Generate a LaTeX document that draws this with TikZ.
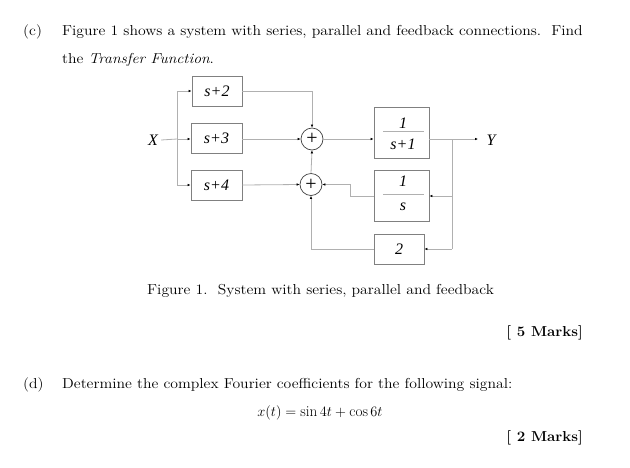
\documentclass[tikz,border=0pt]{standalone}
\usepackage{fontspec}
\usepackage{amsmath}
\usetikzlibrary{arrows.meta}
\newfontfamily\dgfont{Liberation Serif}
\newcommand{\widetxt}[1]{\scalebox{1.09}[1]{#1}}
\definecolor{wire}{HTML}{B0B0B0}
\definecolor{boxline}{HTML}{808080}
\definecolor{sumline}{HTML}{404040}
\tikzset{
  body/.style={anchor=base west,inner sep=0pt,font=\fontsize{14.4}{17}\selectfont},
  bodyr/.style={anchor=base east,inner sep=0pt,font=\fontsize{14.4}{17}\selectfont\bfseries},
  blk/.style={draw=boxline,line width=0.8pt,inner sep=0pt,font=\dgfont\itshape\fontsize{16}{18}\selectfont},
  sumnode/.style={circle,draw=sumline,line width=0.7pt,minimum size=22pt,inner sep=0pt,font=\dgfont\fontsize{20}{20}\selectfont},
  wirearrow/.style={draw=wire,line width=0.8pt,-{Latex[length=3pt,width=2.6pt,color=black]}},
  wireline/.style={draw=wire,line width=0.8pt},
  lbl/.style={inner sep=0pt,font=\dgfont\itshape\fontsize{16}{18}\selectfont}
}
\begin{document}
\begin{tikzpicture}[x=1pt,y=-1pt]
\path[use as bounding box,fill=white] (0,0) rectangle (630,467);
% text
\node[body] (c) at (23,35) {\widetxt{(c)}};
\node[body] (t1) at (62,35) {\widetxt{Figure 1 shows a system with series, parallel and feedback connections.\ \ Find}};
\node[body] (t2) at (62,63) {\widetxt{the \textit{Transfer Function}.}};
\node[body] (cap) at (147,294) {\widetxt{Figure 1.\ \ System with series, parallel and feedback}};
\node[bodyr] (m5) at (583,336) {\scalebox{1.05}[1]{[ 5 Marks]}};
\node[body] (d) at (23,388) {\widetxt{(d)}};
\node[body] (t3) at (62,388) {\widetxt{Determine the complex Fourier coefficients for the following signal:}};
\node[anchor=base,inner sep=0pt,font=\fontsize{15.2}{17}\selectfont] (eq) at (320,416) {$x(t) = \sin 4t + \cos 6t$};
\node[bodyr] (m2) at (583,441) {\scalebox{1.05}[1]{[ 2 Marks]}};
% blocks
\node[blk,minimum width=50pt,minimum height=30pt] (b2) at (217,91) {s+2};
\node[blk,minimum width=51pt,minimum height=30pt] (b3) at (216.5,138) {s+3};
\node[blk,minimum width=51pt,minimum height=30pt] (b4) at (216.5,185) {s+4};
\node[sumnode] (s1) at (312,139) {+};
\node[sumnode] (s2) at (311,184.5) {+};
\node[blk,minimum width=55pt,minimum height=51pt] (g1) at (401.5,133) {};
\node[lbl] (g1n) at (403,123) {1};
\node[lbl] (g1d) at (403,144) {s+1};
\draw[wireline] (383,131) -- (424,131);
\node[blk,minimum width=55pt,minimum height=51pt] (g2) at (401.5,195.5) {};
\node[lbl] (g2n) at (403,181) {1};
\node[lbl] (g2d) at (403,207) {s};
\draw[wireline] (383,194) -- (424,194);
\node[blk,minimum width=50pt,minimum height=30pt] (g3) at (399,249) {2};
\node[lbl] (x) at (153,140) {X};
\node[lbl] (y) at (491,140) {Y};
% wiring
\coordinate (bx) at (177,139);
\coordinate (by) at (452,139);
\coordinate (yout) at (478,139);
\coordinate (fb1) at (350,196);
\draw[wireline] (x.east) ++(3,0) -- (bx);
\draw[wirearrow] (bx) -- (b3.west |- bx);
\draw[wirearrow] (bx) |- (b2.west);
\draw[wirearrow] (bx) |- (b4.west);
\draw[wirearrow] (b2.east) -| (s1.north);
\draw[wirearrow] (b3.east |- s1) -- (s1.west);
\draw[wirearrow] (b4.east) -- (s2.west);
\draw[wirearrow] (s2.north) -- (s1.south);
\draw[wirearrow] (s1.east) -- (s1.east -| g1.west);
\draw[wirearrow] (s1 -| g1.east) -- (yout);
\draw[wireline] (by) -- (by |- g3);
\draw[wirearrow] (by |- fb1) -- (fb1 -| g2.east);
\draw[wirearrow] (by |- g3) -- (g3.east);
\draw[wirearrow] (g2.west |- fb1) -- (fb1) |- (s2.east);
\draw[wirearrow] (g3.west) -| (s2.south);
\end{tikzpicture}
\end{document}
